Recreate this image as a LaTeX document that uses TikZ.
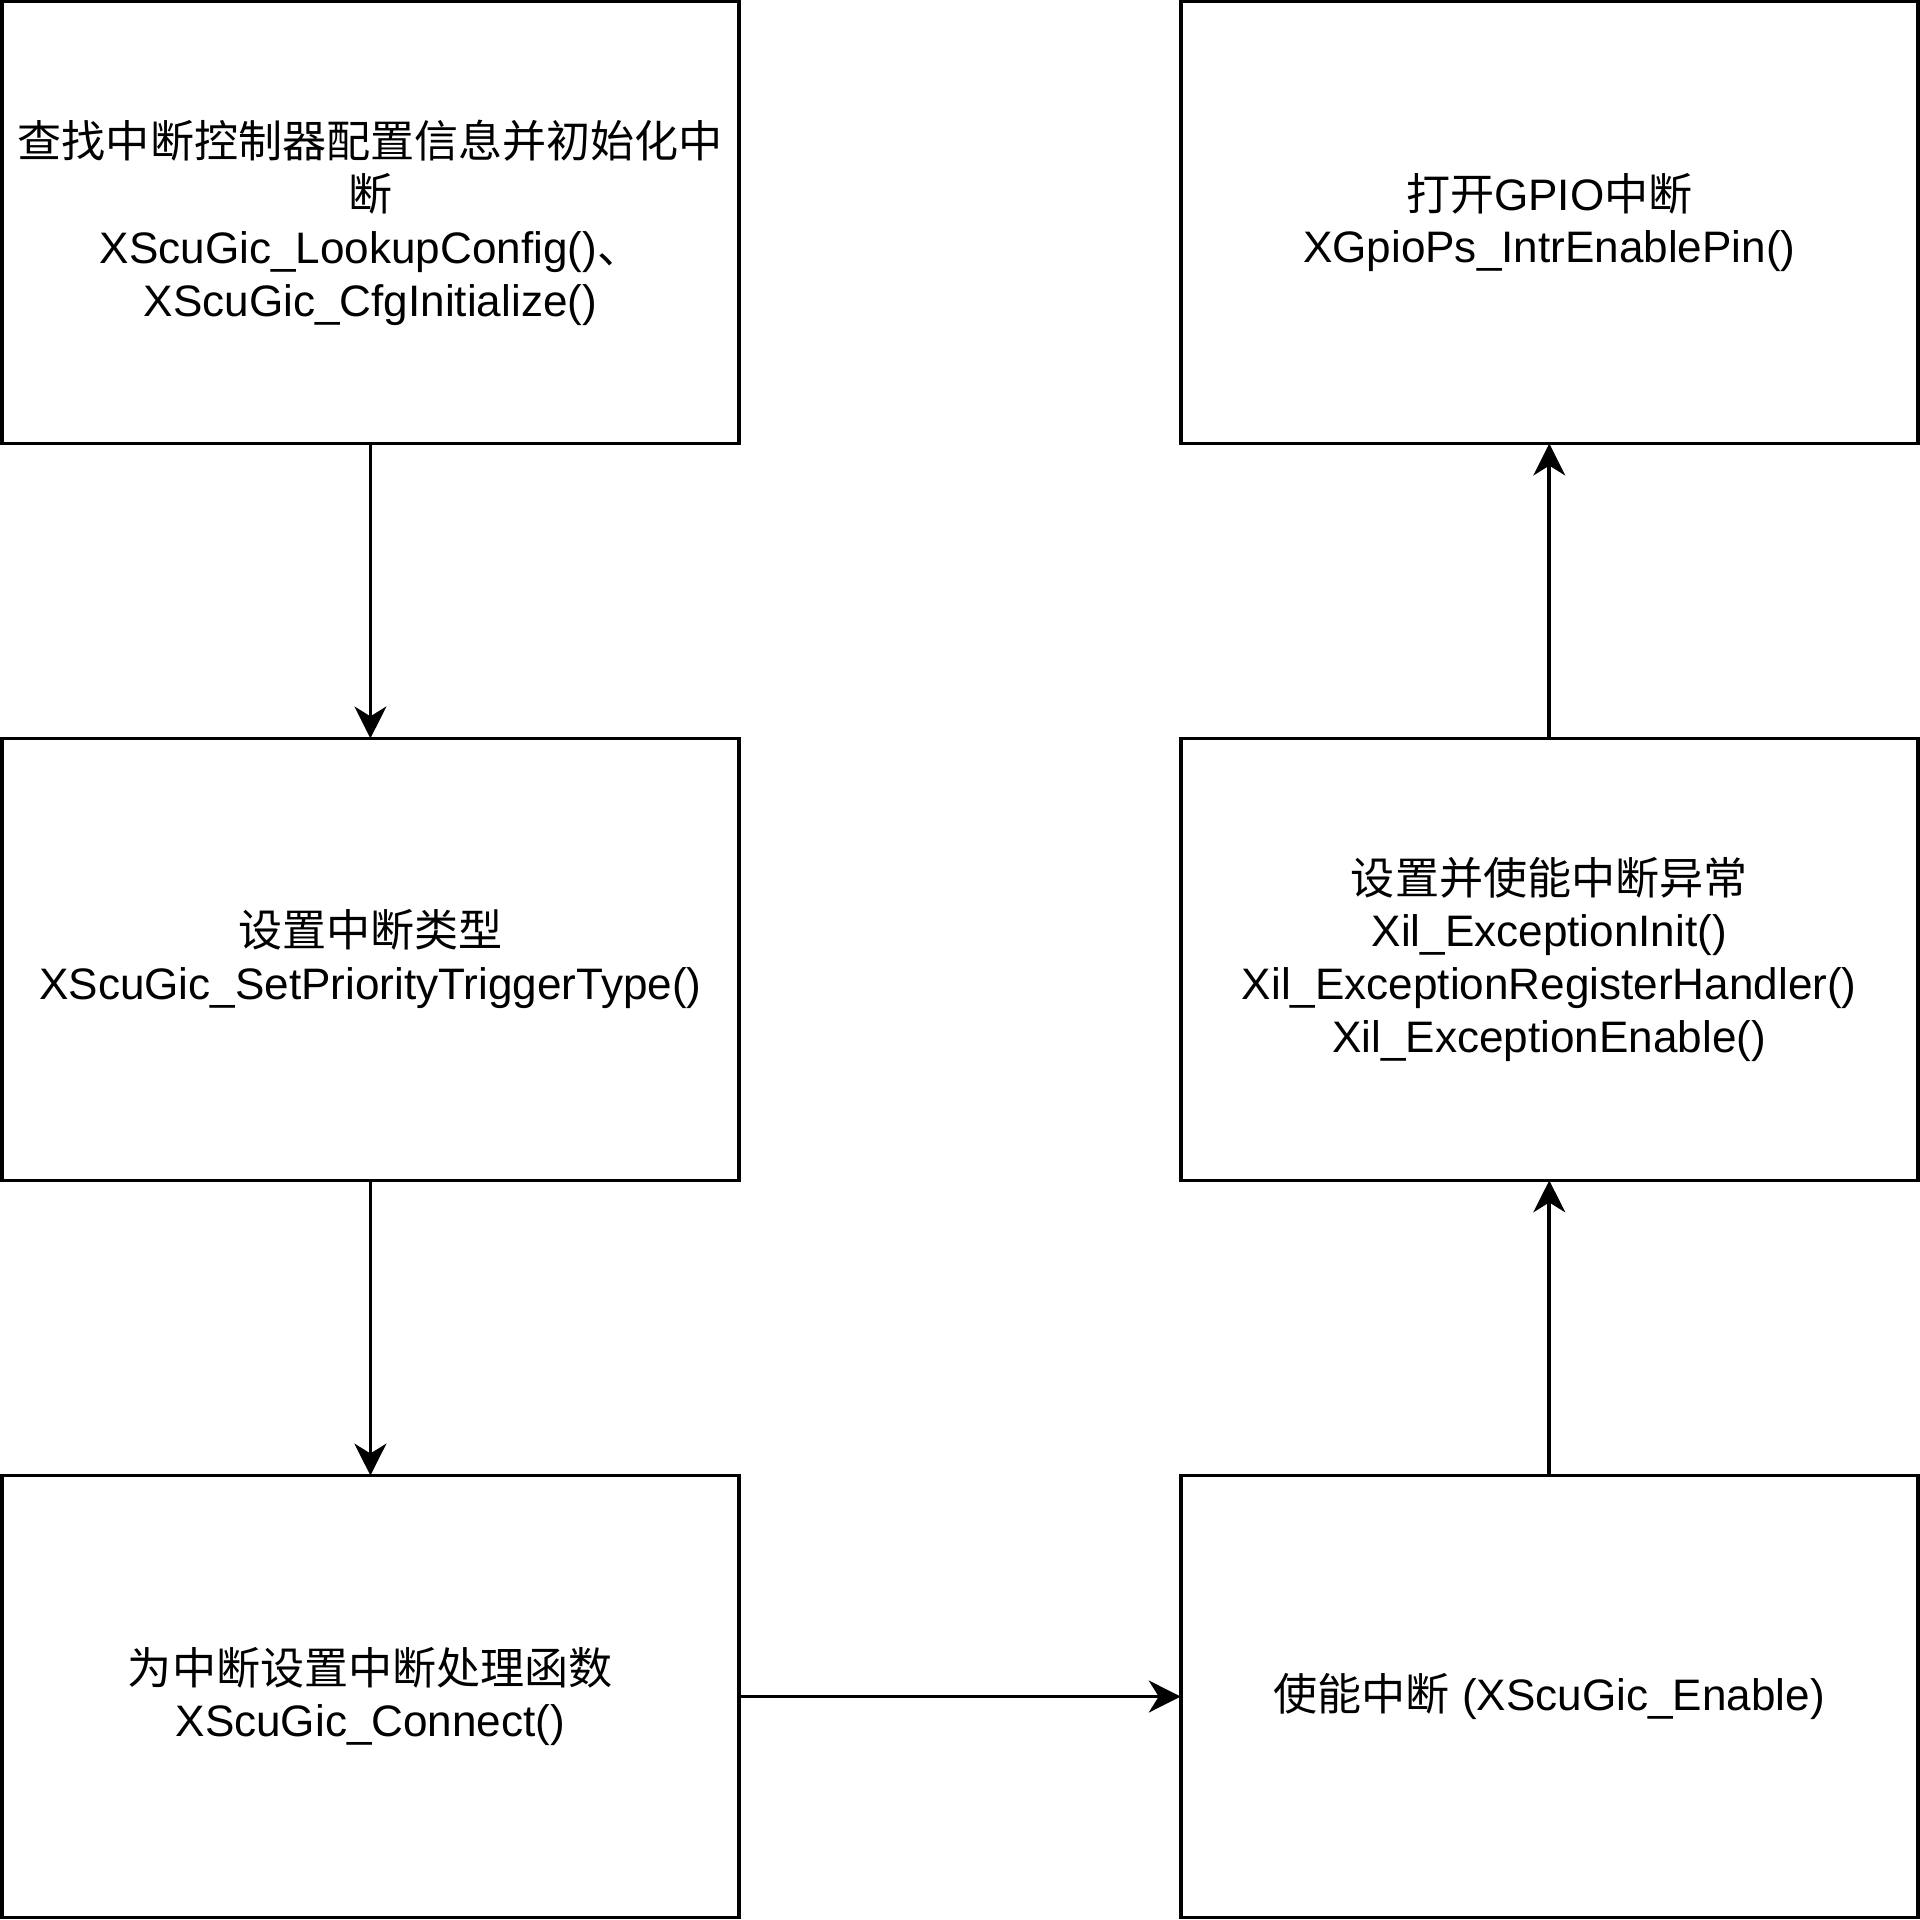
\documentclass[tikz,border=0pt]{standalone}
\usepackage{fontspec}
\usepackage{tikz}
\usetikzlibrary{arrows.meta}
\setmainfont{Liberation Sans}
\newfontfamily\cjk{Noto Sans CJK SC}

\begin{document}
\begin{tikzpicture}[x=0.5pt,y=-0.5pt,
	flowbox/.style={shape=rectangle,draw=black,line width=1.5pt,minimum width=301pt,minimum height=180.5pt,
		inner sep=0pt,outer sep=0pt,align=center,font=\fontsize{18}{21.6}\selectfont},
	flowarrow/.style={line width=1.5pt,-{Stealth[length=13pt,width=13pt,inset=4pt]}}]
	
	\useasboundingbox (0,0) rectangle (1568,1568);
	
	\node[flowbox] (gicinit) at (302.5, 181.75)  {{\cjk 查找中断控制器配置信息并初始化中}\\{\cjk 断}\\XScuGic\_LookupConfig(){\cjk 、}\\XScuGic\_CfgInitialize()};
	\node[flowbox] (settype) at (302.5, 783.5)   {{\cjk 设置中断类型}\\XScuGic\_SetPriorityTriggerType()};
	\node[flowbox] (connect) at (302.5, 1385.5)  {{\cjk 为中断设置中断处理函数}\\XScuGic\_Connect()};
	\node[flowbox] (enable)  at (1265.25, 1385.5) {{\cjk 使能中断} (XScuGic\_Enable)};
	\node[flowbox] (excinit) at (1265.25, 783.5)  {{\cjk 设置并使能中断异常}\\Xil\_ExceptionInit()\\Xil\_ExceptionRegisterHandler()\\Xil\_ExceptionEnable()};
	\node[flowbox] (gpioen)  at (1265.25, 181.75) {{\cjk 打开}GPIO{\cjk 中断}\\XGpioPs\_IntrEnablePin()};
	
	
	\draw[flowarrow] (gicinit) -- (settype);
	\draw[flowarrow] (settype) -- (connect);
	\draw[flowarrow] (connect) -- (enable);
	\draw[flowarrow] (enable)  -- (excinit);
	\draw[flowarrow] (excinit) -- (gpioen);
	
\end{tikzpicture}
\end{document}
